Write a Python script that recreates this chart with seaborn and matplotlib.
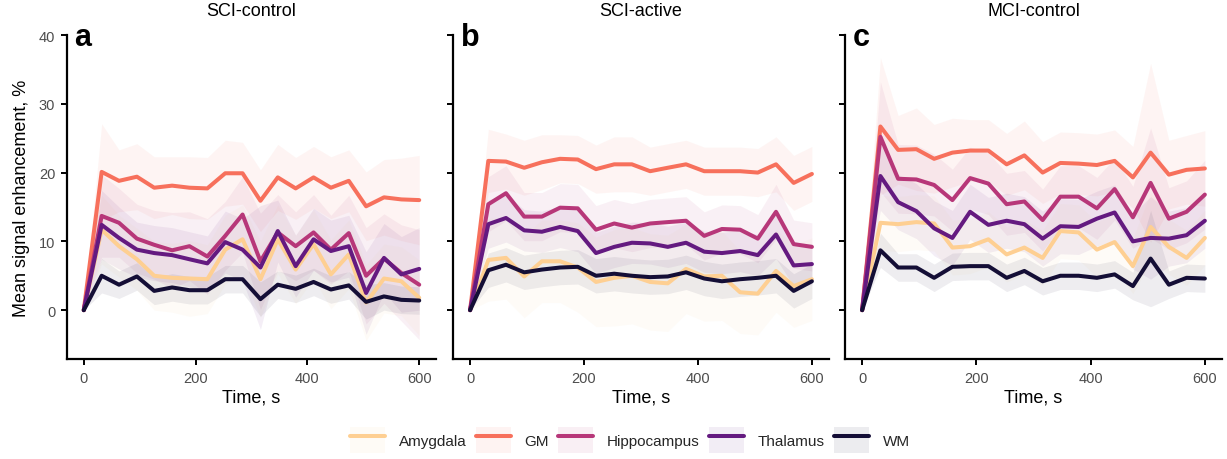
import numpy as np
import pandas as pd
import matplotlib
matplotlib.use("Agg")
import matplotlib.pyplot as plt
import seaborn as sns
from matplotlib.patches import Patch
from matplotlib.lines import Line2D

sns.set_theme(style="ticks")
plt.rcParams['font.family'] = ['Liberation Sans', 'DejaVu Sans']

time_s = [0, 32, 63, 95, 126, 158, 189, 221, 253, 284, 316, 347, 379, 411, 442, 474, 505, 537, 568, 600]
regions = ["Amygdala", "GM", "Hippocampus", "Thalamus", "WM"]
colors = ["#fecf92", "#f7705c", "#b73779", "#641a80", "#140e36"]
panels = ["SCI-control", "SCI-active", "MCI-control"]
panel_letters = ["a", "b", "c"]

# Panel a: SCI-control
amy_a = [0, 11.7, 9.3, 7.4, 5.0, 4.7, 4.6, 4.5, 8.8, 10.3, 4.5, 10.3, 5.9, 9.6, 5.2, 8.1, 1.1, 4.6, 4.2, 1.8]
gm_a = [0, 20.1, 18.8, 19.4, 17.8, 18.1, 17.8, 17.7, 19.9, 19.9, 15.9, 19.3, 17.7, 19.3, 17.8, 18.8, 15.1, 16.4, 16.1, 16.0]
hip_a = [0, 13.7, 12.7, 10.4, 9.5, 8.7, 9.3, 7.8, 10.8, 13.9, 7.1, 11.3, 9.3, 11.3, 8.8, 11.2, 5.0, 7.5, 5.4, 3.7]
tha_a = [0, 12.4, 10.5, 8.8, 8.3, 8.0, 7.4, 6.8, 9.9, 8.8, 6.2, 11.5, 6.4, 10.3, 8.6, 9.3, 2.5, 7.6, 5.2, 6.0]
wm_a = [0, 5.0, 3.7, 4.9, 2.8, 3.3, 2.9, 2.9, 4.5, 4.5, 1.6, 3.7, 3.1, 4.1, 3.0, 3.6, 1.2, 2.0, 1.5, 1.4]

# Panel b: SCI-active
amy_b = [0, 7.3, 7.6, 4.9, 7.1, 7.1, 6.2, 4.1, 4.7, 5.0, 4.1, 3.9, 6.0, 4.9, 5.0, 2.6, 2.4, 5.7, 3.5, 4.5]
gm_b = [0, 21.7, 21.6, 20.7, 21.5, 22.0, 21.9, 20.5, 21.2, 21.2, 20.2, 20.7, 21.2, 20.2, 20.2, 20.2, 20.0, 21.2, 18.5, 19.8]
hip_b = [0, 15.4, 17.0, 13.6, 13.6, 14.9, 14.8, 11.7, 12.6, 12.0, 12.6, 12.8, 13.0, 10.8, 11.8, 11.7, 10.4, 14.3, 9.6, 9.2]
tha_b = [0, 12.5, 13.4, 11.6, 11.4, 12.1, 11.5, 8.3, 9.2, 9.8, 9.7, 9.2, 9.8, 8.5, 8.3, 8.6, 8.0, 11.0, 6.5, 6.7]
wm_b = [0, 5.8, 6.6, 5.5, 5.9, 6.2, 6.3, 5.0, 5.3, 5.0, 4.8, 4.9, 5.5, 4.6, 4.2, 4.5, 4.7, 5.0, 2.8, 4.2]

# Panel c: MCI-control
amy_c = [0, 12.7, 12.5, 12.8, 12.6, 9.1, 9.3, 10.3, 8.1, 9.1, 7.6, 11.5, 11.3, 8.8, 9.9, 6.4, 12.1, 9.2, 7.6, 10.5]
gm_c = [0, 26.7, 23.3, 23.4, 22.0, 22.9, 23.2, 23.2, 21.2, 22.5, 20.0, 21.4, 21.3, 21.1, 21.7, 19.3, 22.9, 19.7, 20.4, 20.6]
hip_c = [0, 25.2, 19.1, 19.0, 18.2, 16.0, 19.2, 18.4, 15.4, 15.8, 13.1, 16.5, 16.5, 14.8, 17.6, 13.5, 18.5, 13.3, 14.3, 16.8]
tha_c = [0, 19.5, 15.7, 14.4, 11.9, 10.5, 14.3, 12.4, 13.0, 12.5, 10.4, 12.2, 12.1, 13.3, 14.2, 10.0, 10.5, 10.4, 10.9, 13.0]
wm_c = [0, 8.7, 6.2, 6.2, 4.7, 6.3, 6.4, 6.4, 4.7, 5.7, 4.2, 5.0, 5.0, 4.7, 5.2, 3.5, 7.5, 3.7, 4.7, 4.6]

# Ribbon half-widths (estimated from the shaded bands)
amy_a_hw = [0, 5.0, 4.5, 4.5, 5.0, 5.0, 5.5, 5.0, 5.0, 5.0, 5.5, 5.0, 5.0, 5.0, 5.0, 5.0, 5.5, 5.0, 5.0, 5.5]
gm_a_hw = [0, 7.0, 4.5, 4.8, 4.5, 4.2, 4.5, 4.5, 4.8, 4.5, 4.5, 4.8, 4.5, 4.5, 4.5, 4.5, 5.0, 5.5, 6.0, 6.5]
hip_a_hw = [0, 6.0, 5.0, 5.0, 5.0, 5.5, 5.0, 5.5, 5.0, 5.5, 7.0, 5.5, 5.0, 5.5, 5.0, 5.5, 7.0, 6.5, 7.0, 8.0]
tha_a_hw = [0, 5.0, 4.5, 4.0, 4.0, 4.0, 4.0, 4.0, 4.5, 4.5, 9.0, 4.5, 4.5, 4.5, 4.5, 4.5, 6.0, 5.0, 5.5, 6.0]
wm_a_hw = [0, 2.5, 2.0, 2.0, 2.0, 2.0, 2.0, 2.0, 2.0, 2.0, 2.5, 2.0, 2.0, 2.0, 2.0, 2.0, 2.5, 2.0, 2.0, 2.0]

amy_b_hw = [0, 6.0, 6.0, 6.0, 6.0, 6.0, 6.5, 6.5, 7.0, 7.0, 7.0, 7.0, 6.5, 6.5, 6.5, 6.0, 6.0, 6.0, 6.0, 6.0]
gm_b_hw = [0, 4.6, 4.0, 4.0, 4.0, 3.5, 3.5, 3.5, 4.0, 4.0, 3.5, 3.5, 3.5, 3.5, 3.5, 3.5, 3.5, 4.0, 4.0, 4.0]
hip_b_hw = [0, 4.0, 4.0, 3.5, 3.5, 3.5, 3.5, 3.5, 3.5, 3.5, 3.5, 3.5, 3.5, 3.5, 3.5, 3.5, 3.5, 4.0, 3.5, 3.5]
tha_b_hw = [0, 3.5, 3.5, 3.0, 3.0, 3.0, 3.0, 3.0, 3.0, 3.0, 3.0, 3.0, 3.0, 3.0, 3.0, 3.0, 3.0, 3.5, 3.0, 3.0]
wm_b_hw = [0, 2.5, 2.5, 2.5, 2.5, 2.5, 2.5, 2.5, 2.5, 2.5, 2.5, 2.5, 2.5, 2.5, 2.5, 2.5, 2.5, 2.5, 2.5, 2.5]

amy_c_hw = [0, 4.0, 4.0, 4.0, 4.0, 4.0, 4.0, 4.0, 4.0, 4.0, 4.0, 4.0, 4.0, 4.0, 4.0, 4.0, 5.0, 4.0, 4.0, 4.0]
gm_c_hw = [0, 10.0, 5.0, 6.0, 5.0, 5.0, 4.5, 4.5, 4.5, 5.0, 4.5, 4.5, 4.5, 4.5, 4.5, 4.5, 13.0, 5.0, 5.0, 5.5]
hip_c_hw = [0, 8.0, 5.0, 5.0, 4.5, 4.5, 4.5, 4.5, 4.5, 4.5, 4.5, 4.5, 4.5, 4.5, 4.5, 4.5, 8.0, 4.5, 4.5, 5.0]
tha_c_hw = [0, 5.0, 4.0, 4.0, 4.0, 4.0, 4.0, 4.0, 4.0, 4.0, 4.0, 4.0, 4.0, 4.0, 4.0, 4.0, 6.0, 4.0, 4.0, 4.0]
wm_c_hw = [0, 2.5, 2.0, 2.0, 2.0, 2.0, 2.0, 2.0, 2.0, 2.0, 2.0, 2.0, 2.0, 2.0, 2.0, 2.0, 7.0, 2.0, 2.0, 2.0]

means = [[amy_a, gm_a, hip_a, tha_a, wm_a],
         [amy_b, gm_b, hip_b, tha_b, wm_b],
         [amy_c, gm_c, hip_c, tha_c, wm_c]]
hws = [[amy_a_hw, gm_a_hw, hip_a_hw, tha_a_hw, wm_a_hw],
       [amy_b_hw, gm_b_hw, hip_b_hw, tha_b_hw, wm_b_hw],
       [amy_c_hw, gm_c_hw, hip_c_hw, tha_c_hw, wm_c_hw]]

rows = []
for p, panel in enumerate(panels):
    for r, reg in enumerate(regions):
        for t, m, h in zip(time_s, means[p][r], hws[p][r]):
            rows.append({"panel": panel, "region": reg, "time": t, "mean": m,
                         "lo": m - h, "hi": m + h})
df = pd.DataFrame(rows)

fig = plt.figure(figsize=(12.27, 4.6), dpi=100)
W, H = 1227, 460
boxes = [(67, 436), (453, 829), (845, 1222)]
top, bottom = 36, 360
palette = dict(zip(regions, colors))

for i, panel in enumerate(panels):
    l, r = boxes[i]
    ax = fig.add_axes([l / W, 1 - bottom / H, (r - l) / W, (bottom - top) / H])
    sub = df[df.panel == panel]
    for reg in regions:
        s = sub[sub.region == reg]
        ax.fill_between(s["time"], s["lo"], s["hi"], color=palette[reg], alpha=0.07, lw=0)
    sns.lineplot(data=sub, x="time", y="mean", hue="region", hue_order=regions,
                 palette=palette, linewidth=2.9, ax=ax, legend=False, errorbar=None)
    ax.set_xlim(-30, 630)
    ax.set_ylim(-7.1, 40)
    ax.set_xticks([0, 200, 400, 600])
    ax.set_yticks([0, 10, 20, 30, 40])
    for sp in ["top", "right"]:
        ax.spines[sp].set_visible(False)
    for sp in ["left", "bottom"]:
        ax.spines[sp].set_color("black")
        ax.spines[sp].set_linewidth(1.6)
    ax.tick_params(axis="both", colors="black", labelcolor="#4d4d4d",
                   length=4.5, width=1.4, labelsize=10.5, pad=4)
    ax.set_xlabel("Time, s", fontsize=13, color="black", labelpad=3)
    if i == 0:
        ax.set_ylabel("Mean signal enhancement, %", fontsize=13, color="black", labelpad=6)
    else:
        ax.set_ylabel("")
        ax.set_yticklabels([])
    ax.text(0.5, 1.075, panel, transform=ax.transAxes, ha="center", va="center",
            fontsize=13, color="black")
    ax.text(0.02, 0.995, panel_letters[i], transform=ax.transAxes, ha="left", va="center",
            fontsize=22, fontweight="bold", color="black")

handles = [(Patch(facecolor=c, alpha=0.08, edgecolor="none"),
            Line2D([], [], color=c, lw=2.9)) for c in colors]
fig.legend(handles, regions, loc="center", bbox_to_anchor=(630 / W, 1 - 441 / H),
           ncol=5, frameon=False, fontsize=11, handlelength=2.3, handleheight=2.2,
           columnspacing=0.6, handletextpad=0.9, borderaxespad=0)

fig.savefig("out.png", dpi=100)
